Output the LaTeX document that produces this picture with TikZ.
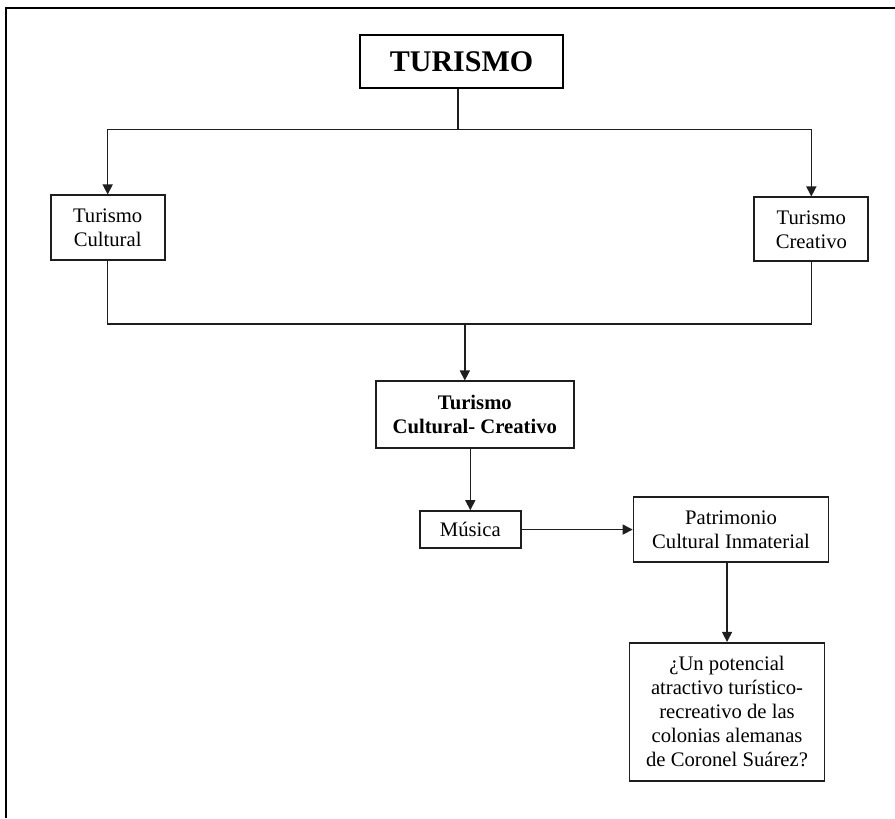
\documentclass[tikz,border=0pt]{standalone}
\usepackage{fontspec}
\setmainfont{Liberation Serif}
\usepackage{tikz}
\usetikzlibrary{
  arrows.meta,
  positioning,
  calc
}
\tikzset{
  every node/.style={inner sep=2pt}
}
\definecolor{frameBlack}{RGB}{0, 0, 0}
\definecolor{lineGray}{RGB}{30, 30, 30}

\begin{document}
\begin{tikzpicture}[
    x=0.75pt, y=-0.75pt,
    font=\fontsize{15.5}{18}\selectfont,
    box/.style={rectangle, draw=lineGray, align=center, line width=1.3pt},
    titlebox/.style={rectangle, draw=frameBlack, align=center, line width=2.2pt, font=\fontsize{22.5}{26}\selectfont\bfseries},
    link/.style={draw=lineGray, line width=1.1pt},
    arrow/.style={-{Triangle[length=7.5pt, width=7.5pt]}, draw=lineGray, line width=1.1pt}
]
    \useasboundingbox (0,0) rectangle (895,818);
    \draw[frameBlack, line width=2pt] (6,818) -- (6,8) -- (895,8);

    \node[titlebox, minimum width=152.25pt, minimum height=39.75pt] (turismo) at (461.5,61.5) {TURISMO};

    \node[box, below left=78.75pt and 144.75pt of turismo, minimum width=85.5pt, minimum height=48.75pt] (cultural) {
        Turismo \\ Cultural
    };

    \node[box, below right=80.25pt and 141.75pt of turismo, minimum width=85.5pt, minimum height=48pt] (creativo) {
        Turismo \\ Creativo
    };

    \coordinate (topbar) at ($(turismo.south)+(-2.5pt,-30pt)$);
    \draw[link] (topbar |- turismo.south) -- (topbar);
    \draw[arrow] (topbar) -| (cultural.north);
    \draw[arrow] (topbar) -| (creativo.north);


    \node[box, below=218.25pt of turismo, xshift=10pt, minimum width=148.5pt, minimum height=50.25pt, font=\fontsize{15.5}{18}\selectfont\bfseries] (cultcrea) {
        Turismo \\ Cultural- Creativo
    };

    \coordinate (lowbar) at ($(cultural.south)+(0,-47.25pt)$);
    \draw[link] (cultural.south) -- (lowbar) -- (lowbar -| creativo.south) -- (creativo.south);
    \coordinate (join) at ($(lowbar -| cultcrea.north)+(-7.5pt,0)$);
    \draw[arrow] (join) -- (join |- cultcrea.north);


    \node[box, below=45.75pt of cultcrea, xshift=-3.4pt, minimum width=75.75pt, minimum height=27.75pt] (musica) {Música};

    \node[box, right=83.25pt of musica, minimum width=146.25pt, minimum height=48.75pt] (patrimonio) {
        Patrimonio \\ Cultural Inmaterial
    };

    \node[box, below=59.25pt of patrimonio, xshift=-3pt, minimum width=146.25pt, minimum height=103.5pt] (pregunta) {
        ¿Un potencial \\ atractivo turístico- \\ recreativo de las \\ colonias alemanas \\ de Coronel Suárez?
    };

    \draw[arrow] (musica.north |- cultcrea.south) -- (musica.north);
    \draw[arrow] (musica.east) -- (musica.east -| patrimonio.west);
    \draw[arrow] (pregunta.north |- patrimonio.south) -- (pregunta.north);

\end{tikzpicture}
\end{document}
